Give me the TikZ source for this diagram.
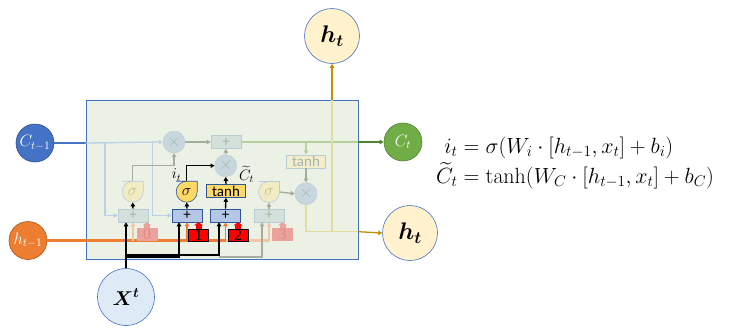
\RequirePackage{fix-cm}
\documentclass[tikz,border=0pt]{standalone}
\usepackage{amsmath}
\usepackage{bm}
\usepackage[no-math]{fontspec}
\setmainfont{Carlito}
\newfontfamily\numfont{Liberation Serif}
\usetikzlibrary{arrows.meta,positioning,calc}
\definecolor{CellBlue}{HTML}{4472C4}
\definecolor{CellFill}{HTML}{EBF1E5}
\definecolor{EdgeBlue}{HTML}{2F528F}
\definecolor{Orange}{HTML}{ED7D31}
\definecolor{Green}{HTML}{70AD47}
\definecolor{OutFill}{HTML}{FFF2CC}
\definecolor{InFill}{HTML}{DEEBF7}
\definecolor{AddBlue}{HTML}{B4C7E7}
\definecolor{Navy}{HTML}{2F5597}
\definecolor{Gold}{HTML}{FFD966}
\definecolor{FadeAdd}{HTML}{D4E1DB}
\definecolor{FadeEdge}{HTML}{B9CCD6}
\definecolor{FadeText}{HTML}{A7B4AF}
\definecolor{MulFill}{HTML}{C8D7DD}
\definecolor{FadeDrop}{HTML}{F1ECC4}
\definecolor{FadeSig}{HTML}{C9BE92}
\definecolor{FadeTanh}{HTML}{F2EDCA}
\definecolor{FBlue}{HTML}{BAD0E6}
\definecolor{FGray}{HTML}{A5AE9E}
\definecolor{FGreen}{HTML}{B3D19C}
\definecolor{FYellow}{HTML}{E5DB9E}
\definecolor{FOrange}{HTML}{F6C5A3}
\definecolor{GoldLine}{HTML}{BF9000}
\definecolor{GreenLine}{HTML}{548235}
\definecolor{FadeRed}{HTML}{ECA29C}
\definecolor{FadeRedText}{HTML}{DD8A84}

\begin{document}
\begin{tikzpicture}[x=1pt, y=-1pt,
    cell/.style={draw=CellBlue, fill=CellFill, line width=0.8pt},
    state/.style={circle, draw=EdgeBlue, line width=0.6pt, minimum size=38pt, inner sep=0pt, text=white, font=\fontsize{16.5}{16.5}\selectfont},
    outnode/.style={circle, draw=CellBlue, fill=OutFill, line width=0.6pt, minimum size=55pt, inner sep=0pt, font=\fontsize{24}{24}\selectfont},
    addon/.style={draw=Navy, fill=AddBlue, line width=0.6pt, minimum width=30pt, minimum height=13pt, inner sep=0pt, font=\fontsize{15}{15}\selectfont},
    addoff/.style={addon, draw=FadeEdge, fill=FadeAdd, text=FadeText},
    tanhon/.style={addon, fill=Gold, minimum width=39pt, font=\fontsize{15}{15}\selectfont},
    tanhoff/.style={tanhon, draw=FadeEdge, fill=FadeTanh, text=FadeText},
    mult/.style={circle, draw=FadeEdge, fill=MulFill, text=FadeText, minimum size=22pt, inner sep=0pt, font=\fontsize{17}{17}\selectfont},
    gate/.style={circle, minimum size=21pt, inner sep=0pt, font=\fontsize{16}{16}\selectfont},
    drop/.pic={\path[pic actions] (10.5,-10.5) -- (10.5,0) [rounded corners=10.5pt] -- (10.5,10.5) -- (-10.5,10.5) -- (-10.5,-10.5) -- (0,-10.5) [sharp corners] -- cycle;},
    bias/.style={draw=black, fill=red, line width=0.6pt, minimum width=20pt, minimum height=12pt, inner sep=0pt, font=\numfont\fontsize{16}{16}\selectfont},
    biasoff/.style={bias, draw=FadeRed, fill=FadeRed, text=FadeRedText},
    tag/.style={inner sep=0pt, font=\fontsize{15}{15}\selectfont},
    arr/.style={-{Triangle[length=4pt,width=4.5pt]}},
    blk/.style={arr, line width=1.4pt, black},
    faded/.style={arr, line width=1.3pt, draw=#1},
    lift/.style={line width=6pt, draw=#1, -{Triangle[length=3pt,width=9pt]}}
  ]
    \useasboundingbox (0,0) rectangle (730,327);
    \node[cell, minimum width=272pt, minimum height=159pt, inner sep=0pt] (box) at (222,179.5) {};

    % inputs and outputs
    \node[state, fill=CellBlue] (ctm) at (35,143) {$C_{t-1}$};
    \node[state, fill=Orange, draw=Orange!70!black] (htm) at (28,240.5) {$h_{t-1}$};
    \node[state, fill=Green, draw=GreenLine] (ct) at (403,142) {$C_t$};
    \node[outnode] (htop) at (332,36) {$\bm{h_t}$};
    \node[outnode] (hout) at (410,233) {$\bm{h_t}$};
    \node[outnode, fill=InFill, minimum size=57pt, font=\fontsize{20}{20}\selectfont] (xt) at (126,297) {$\bm{X^t}$};

    % gates
    \node[addoff] (a0) at (133,215.5) {+};
    \node[addon] (a1) at (187,215.5) {+};
    \node[addon] (a2) at (225.5,215.5) {+};
    \node[addoff] (a3) at (269,215.5) {+};

    \pic[fill=FadeDrop, draw=FadeEdge, line width=0.6pt] at (132.7,191.7) {drop};
    \node[gate, text=FadeSig] (s0) at (132.7,191.7) {$\sigma$};
    \pic[fill=Gold, draw=Navy, line width=0.6pt] at (186.7,191.7) {drop};
    \node[gate] (s1) at (186.7,191.7) {$\sigma$};
    \node[tanhon] (tn) at (226,191) {tanh};
    \pic[fill=FadeDrop, draw=FadeEdge, line width=0.6pt] at (269,192) {drop};
    \node[gate, text=FadeSig] (s3) at (269,192) {$\sigma$};

    \node[mult] (mf) at (174,142) {$\times$};
    \node[mult] (mi) at (225.7,165.7) {$\times$};
    \node[mult] (mo) at (306,193.7) {$\times$};
    \node[addoff] (pc) at (226,142) {+};
    \node[tanhoff] (tc) at (306,161.3) {tanh};

    \node[tag] (itl) at (176.5,175) {$i_t$};
    \node[tag] (cil) at (246.5,174) {$\widetilde{C}_t$};

    % cell state path
    \draw[line width=1.6pt, CellBlue] (ctm.east) -- (box.west |- ctm);
    \draw[faded=FBlue] (box.west |- ctm) -- (mf.west);
    \coordinate (br0) at (105,142);
    \coordinate (br1) at (152.5,142);
    \draw[faded=FBlue] (br0) |- (a0.west);
    \draw[faded=FBlue] (br1) |- (a1.west);
    \draw[faded=FGray] (mf.east) -- (pc.west);
    \draw[faded=FGray] (mi.north) -- (pc.south);
    \draw[line width=1.3pt, FGreen] (pc.east) -- (box.east |- pc);
    \draw[arr, line width=1.3pt, GreenLine] (box.east |- pc) -- (ct.west);
    \draw[faded=FGreen] (tc.north |- pc) -- (tc.north);
    \draw[faded=FGray] (tc.south) -- (mo.north);
    \draw[faded=FGray] (s3.east) -- (mo.west);
    \draw[faded=FGray] (s0.north) -- ++(0,-15.5) -| (mf.south);

    % hidden state output
    \coordinate (hj) at (332,231.7);
    \draw[line width=1.3pt, FYellow] (mo.south) |- (box.east |- hj);
    \draw[line width=1.3pt, FYellow] (hj) -- (box.north -| hj);
    \draw[arr, line width=1.3pt, GoldLine] (box.east |- hj) -- (hout.west);
    \draw[arr, line width=1.3pt, GoldLine] (box.north -| hj) -- (htop.south);

    % previous hidden state
    \draw[line width=2.4pt, FOrange] (a2.south |- htm) -- (a3.south |- htm);
    \draw[line width=2.4pt, Orange] (htm.east) -- (a2.south |- htm);
    \draw[faded=FOrange] (a0.south |- htm) -- (a0.south);
    \draw[faded=Orange] (a1.south |- htm) -- (a1.south);
    \draw[faded=Orange] (a2.south |- htm) -- (a2.south);
    \draw[faded=FOrange] (a3.south |- htm) -- (a3.south);

    % input
    \coordinate (xbus) at (126,257);
    \draw[faded=FGray] ([xshift=-7pt]a2.south |- xbus) -| ([xshift=-7pt]a3.south);
    \draw[blk] (xt.north) -- (xt.north |- a0.south);
    \draw[blk] (xbus) -| ([xshift=-8pt]a1.south);
    \draw[blk] ([yshift=2pt]xbus) -| ([xshift=-6.5pt]a2.south);

    % biases
    \node[biasoff] (b0) at (147,234) {0};
    \node[bias] (b1) at (198.5,235) {1};
    \node[bias] (b2) at (238,235) {2};
    \node[biasoff] (b3) at (282.5,234) {3};
    \draw[lift=FadeRed] (b0.north) -- (b0.north |- a0.south);
    \draw[lift=red] (b1.north) -- (b1.north |- a1.south);
    \draw[lift=red] (b2.north) -- (b2.north |- a2.south);
    \draw[lift=FadeRed] (b3.north) -- (b3.north |- a3.south);

    % gate activations
    \draw[blk] (a0.north) -- (s0.south);
    \draw[blk] (a1.north) -- (s1.south);
    \draw[blk] (a2.north) -- (tn.south);
    \draw[faded=FGray] (a3.north) -- (s3.south);
    \draw[blk] (s1.north) |- (mi.west);
    \draw[blk] (tn.north) -- (mi.south);

    % equations
    \node[anchor=west, inner sep=0pt, font=\fontsize{22}{20}\selectfont] (eq) at (436,163) {\setlength{\jot}{2pt}$\begin{aligned}
      i_t &= \sigma(W_i\cdot[h_{t-1},x_t]+b_i)\\
      \widetilde{C}_t &= \tanh(W_C\cdot[h_{t-1},x_t]+b_C)
    \end{aligned}$};
\end{tikzpicture}
\end{document}
